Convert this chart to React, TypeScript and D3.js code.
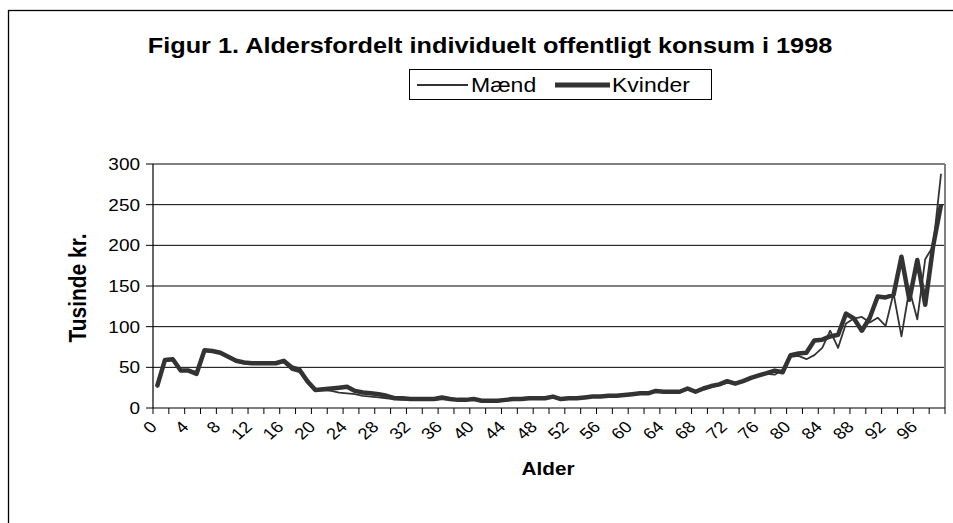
import React from "react";
import * as d3 from "d3";

const ages: number[] = d3.range(0, 100);
const xTickLabels = ["0","4","8","12","16","20","24","28","32","36","40","44","48","52","56","60","64","68","72","76","80","84","88","92","96"];
const yTicks = [0, 50, 100, 150, 200, 250, 300];

const maend = [
  25, 58, 59, 46, 47, 44, 71, 70, 67, 62,
  57, 55, 54, 54, 54, 54, 56, 47, 44, 31,
  21, 22, 21, 19, 18, 17, 15, 14, 13, 12,
  11, 10, 10, 10, 10, 10, 11, 10, 10, 10,
  10, 9, 9, 9, 10, 11, 11, 12, 12, 12,
  13, 11, 12, 12, 13, 14, 14, 15, 15, 16,
  17, 18, 18, 20, 20, 20, 21, 23, 21, 24,
  26, 28, 31, 30, 33, 36, 40, 42, 41, 47,
  63, 64, 60, 65, 74, 95, 74, 104, 110, 112,
  105, 111, 101, 141, 88, 146, 109, 183, 199, 288,
];

const kvinder = [
  26, 59, 60, 46, 46, 42, 71, 70, 68, 63,
  58, 56, 55, 55, 55, 55, 58, 50, 47, 33,
  22, 23, 24, 25, 26, 21, 19, 18, 17, 15,
  12, 12, 11, 11, 11, 11, 13, 11, 10, 10,
  11, 9, 9, 9, 10, 11, 11, 12, 12, 12,
  14, 11, 12, 12, 13, 14, 14, 15, 15, 16,
  17, 18, 18, 21, 20, 20, 20, 24, 20, 24,
  27, 29, 33, 30, 33, 37, 40, 43, 46, 44,
  65, 67, 68, 83, 84, 88, 90, 116, 110, 95,
  111, 137, 136, 139, 186, 133, 182, 127, 199, 250,
];

const W = 953, H = 523;
const PL = 153, PR = 945, PT = 164, PB = 408;
const FONT = "'Liberation Sans', Arial, Helvetica, sans-serif";
const LINE_COLOR = "#333333";
const SX = 1.15;

export default function App() {
  const x = d3.scaleBand<number>().domain(ages).range([PL, PR]).paddingInner(0).paddingOuter(0);
  const bw = x.bandwidth();
  const cx = (a: number) => (x(a) as number) + bw / 2;
  const y = d3.scaleLinear().domain([0, 300]).range([PB, PT]);

  const line = d3.line<number>().x((_, i) => cx(ages[i])).y((d) => y(d));

  const tickPositions = ages.filter((a) => a % 2 === 0).map((a) => x(a) as number).concat([PR]);

  return (
    <svg width={W} height={H} style={{ position: "absolute", left: 0, top: 0, background: "#fff" }} fontFamily={FONT}>
      <rect x={0} y={0} width={W} height={H} fill="#fff" />
      {/* outer chart border */}
      <rect x={8.5} y={10.5} width={W + 20} height={H + 20} fill="none" stroke="#000" strokeWidth={1.3} />

      {/* title */}
      <text transform={`translate(490,53) scale(${SX},1)`} textAnchor="middle" fontWeight="bold" fontSize={22}>
        Figur 1. Aldersfordelt individuelt offentligt konsum i 1998
      </text>

      {/* legend */}
      <g>
        <rect x={409.5} y={69.5} width={302} height={30} fill="#fff" stroke="#000" strokeWidth={1} />
        <line x1={417} x2={468} y1={85} y2={85} stroke={LINE_COLOR} strokeWidth={1.8} />
        <text transform={`translate(471,92) scale(${SX},1)`} fontSize={20}>Mænd</text>
        <line x1={555} x2={610} y1={85} y2={85} stroke={LINE_COLOR} strokeWidth={5} />
        <text transform={`translate(612,92) scale(${SX},1)`} fontSize={20}>Kvinder</text>
      </g>

      {/* gridlines */}
      {yTicks.filter((t) => t > 0).map((t) => (
        <line key={"g" + t} x1={PL} x2={PR} y1={y(t)} y2={y(t)} stroke="#000" strokeWidth={1} />
      ))}
      {/* plot right border */}
      <line x1={PR} x2={PR} y1={PT} y2={PB} stroke="#808080" strokeWidth={2} />

      {/* y axis */}
      <line x1={PL} x2={PL} y1={PT} y2={PB} stroke="#000" strokeWidth={1.2} />
      {yTicks.map((t) => (
        <g key={"yt" + t}>
          <line x1={PL - 7} x2={PL} y1={y(t)} y2={y(t)} stroke="#000" strokeWidth={1} />
          <text transform={`translate(140,${y(t)}) scale(${SX},1)`} dy="0.36em" textAnchor="end" fontSize={16.5}>{t}</text>
        </g>
      ))}

      {/* x axis */}
      <line x1={PL} x2={PR} y1={PB} y2={PB} stroke="#000" strokeWidth={1.2} />
      {tickPositions.map((p, i) => (
        <line key={"xt" + i} x1={p} x2={p} y1={PB} y2={PB + 6} stroke="#000" strokeWidth={1} />
      ))}
      {xTickLabels.map((lab) => {
        const a = +lab;
        const px = cx(a) - 8;
        const py = 420;
        return (
          <text key={"xl" + lab} transform={`translate(${px},${py}) scale(${SX},1) rotate(-45)`} textAnchor="end" dy="0.7em" fontSize={16}>
            {lab}
          </text>
        );
      })}

      {/* axis titles */}
      <text transform={`translate(86,288) scale(${SX},1) rotate(-90)`} textAnchor="middle" fontWeight="bold" fontSize={21}>Tusinde kr.</text>
      <text transform={`translate(548,475) scale(${SX},1)`} textAnchor="middle" fontWeight="bold" fontSize={18}>Alder</text>

      {/* series */}
      <path d={line(maend) as string} fill="none" stroke={LINE_COLOR} strokeWidth={1.8} strokeLinejoin="round" />
      <path d={line(kvinder) as string} fill="none" stroke={LINE_COLOR} strokeWidth={4.5} strokeLinejoin="round" />
    </svg>
  );
}
